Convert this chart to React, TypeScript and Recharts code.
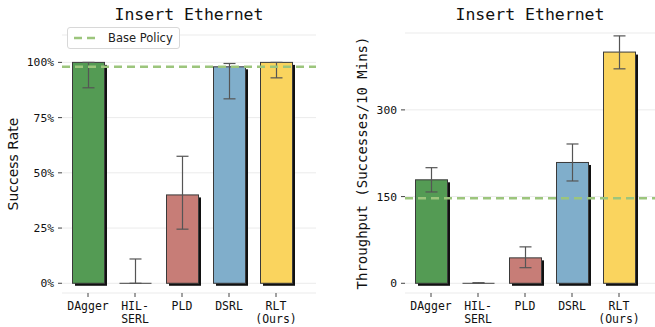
import React from "react";
import {
  BarChart,
  Bar,
  XAxis,
  YAxis,
  CartesianGrid,
  ErrorBar,
  ReferenceLine,
  Legend,
} from "recharts";

const categories = ["DAgger", "HIL-SERL", "PLD", "DSRL", "RLT (Ours)"];
const tickLines: Record<string, string[]> = {
  DAgger: ["DAgger"],
  "HIL-SERL": ["HIL-", "SERL"],
  PLD: ["PLD"],
  DSRL: ["DSRL"],
  "RLT (Ours)": ["RLT", "(Ours)"],
};
const barColors = ["#549b54", "#8c8c8c", "#c77d77", "#80aecb", "#fad45e"];

const successRate = [1.0, 0, 0.4, 0.98, 1.0];
const successLow = [0.885, 0, 0.245, 0.835, 0.93];
const successHigh = [1.0, 0.11, 0.575, 0.995, 1.0];
const successTicks = [0, 0.25, 0.5, 0.75, 1];
const successBase = 0.98;

const throughput = [179, 0, 44, 209, 400];
const throughputLow = [158, 0, 27, 177, 371];
const throughputHigh = [200, 1, 63, 241, 428];
const throughputTicks = [0, 150, 300];
const throughputBase = 147;

const MONO = "'DejaVu Sans Mono', monospace";
const SANS = "'DejaVu Sans', sans-serif";
const BASE_COLOR = "#9cc57c";

const successData = categories.map((name, i) => ({
  name,
  value: successRate[i],
  err: [successRate[i] - successLow[i], successHigh[i] - successRate[i]],
}));

const throughputData = categories.map((name, i) => ({
  name,
  value: throughput[i],
  err: [throughput[i] - throughputLow[i], throughputHigh[i] - throughput[i]],
}));

const ShadowBar = (props: any) => {
  const { x, y, width, height, index } = props;
  if (!height || height < 0.6) {
    return (
      <line x1={x} x2={x + width} y1={y} y2={y} stroke="#666" strokeWidth={1.2} />
    );
  }
  return (
    <g>
      <rect x={x + 2.5} y={y + 2.5} width={width} height={height} fill="#111" />
      <rect
        x={x}
        y={y}
        width={width}
        height={height}
        fill={barColors[index]}
        stroke="#3a3a3a"
        strokeWidth={1}
      />
    </g>
  );
};

const CategoryTick = (props: any) => {
  const { x, y, payload } = props;
  const lines = tickLines[payload.value] || [payload.value];
  return (
    <text x={x} y={y} textAnchor="middle" fontFamily={MONO} fontSize={11.5} fill="#111">
      {lines.map((l, i) => (
        <tspan key={i} x={x} dy={i === 0 ? 10.5 : 13.5}>
          {l}
        </tspan>
      ))}
    </text>
  );
};

const BaseLegend = () => (
  <div
    style={{
      display: "flex",
      alignItems: "center",
      border: "1px solid #d8d8d8",
      borderRadius: 3,
      padding: "3px 6px 3px 5px",
      background: "#fff",
      fontFamily: SANS,
      fontSize: 11.5,
      color: "#222",
      whiteSpace: "nowrap",
    }}
  >
    <svg width={26} height={8} style={{ marginRight: 9 }}>
      <line x1={1} x2={25} y1={4} y2={4} stroke={BASE_COLOR} strokeWidth={2.5} strokeDasharray="8 5" />
    </svg>
    Base Policy
  </div>
);

const titleStyle = (left: number, width: number): React.CSSProperties => ({
  position: "absolute",
  top: 5,
  left,
  width,
  textAlign: "center",
  fontFamily: MONO,
  fontSize: 16.5,
  color: "#111",
});

export default function App() {
  return (
    <div
      style={{
        position: "absolute",
        left: 0,
        top: 0,
        width: 655,
        height: 327,
        background: "#fff",
        overflow: "hidden",
      }}
    >
      <div style={{ position: "absolute", left: 0, top: 0 }}>
        <BarChart
          width={327}
          height={327}
          data={successData}
          margin={{ top: 35, right: 11, bottom: 0, left: 0 }}
        >
          <CartesianGrid vertical={false} stroke="#ebebeb" strokeWidth={1} />
          <XAxis
            dataKey="name"
            axisLine={false}
            tickLine={{ stroke: "#444" }}
            tickSize={4}
            height={34}
            padding={{ left: 2.5, right: 16.5 }}
            tick={<CategoryTick />}
            interval={0}
          />
          <YAxis
            width={62}
            domain={[-0.044, 1.124]}
            ticks={successTicks}
            allowDataOverflow
            axisLine={false}
            tickLine={{ stroke: "#444" }}
            tickSize={4}
            tickMargin={4}
            tickFormatter={(v: number) => `${Math.round(v * 100)}%`}
            tick={{ fontFamily: MONO, fontSize: 11.3, fill: "#111" }}
            label={{
              value: "Success Rate",
              angle: -90,
              position: "insideLeft",
              offset: 13,
              style: { fontFamily: SANS, fontSize: 14, fill: "#111", textAnchor: "middle" },
            }}
          />
          <Bar dataKey="value" barSize={32} shape={<ShadowBar />} isAnimationActive={false}>
            <ErrorBar dataKey="err" width={6} stroke="#555" strokeWidth={1.2} direction="y" />
          </Bar>
          <ReferenceLine
            y={successBase}
            stroke={BASE_COLOR}
            strokeWidth={2.5}
            strokeDasharray="8 5"
          />
          <Legend
            layout="vertical"
            align="center"
            verticalAlign="middle"
            content={<BaseLegend />}
            wrapperStyle={{ position: "absolute", left: 67, top: 27, width: "auto" }}
          />
        </BarChart>
        <div style={titleStyle(62, 254)}>Insert Ethernet</div>
      </div>

      <div style={{ position: "absolute", left: 327, top: 0 }}>
        <BarChart
          width={330}
          height={327}
          data={throughputData}
          margin={{ top: 33, right: 0, bottom: 0, left: 0 }}
        >
          <CartesianGrid vertical={false} stroke="#ebebeb" strokeWidth={1} />
          <XAxis
            dataKey="name"
            axisLine={false}
            tickLine={{ stroke: "#444" }}
            tickSize={4}
            height={34}
            padding={{ left: 2.5, right: 14.5 }}
            tick={<CategoryTick />}
            interval={0}
          />
          <YAxis
            width={78}
            domain={[-16.8, 433]}
            ticks={throughputTicks}
            allowDataOverflow
            axisLine={false}
            tickLine={{ stroke: "#444" }}
            tickSize={4}
            tickMargin={4}
            tick={{ fontFamily: MONO, fontSize: 11.3, fill: "#111" }}
            label={{
              value: "Throughput (Successes/10 Mins)",
              angle: -90,
              position: "insideLeft",
              offset: 35,
              style: { fontFamily: MONO, fontSize: 14, fill: "#111", textAnchor: "middle" },
            }}
          />
          <Bar dataKey="value" barSize={32} shape={<ShadowBar />} isAnimationActive={false}>
            <ErrorBar dataKey="err" width={6} stroke="#555" strokeWidth={1.2} direction="y" />
          </Bar>
          <ReferenceLine
            y={throughputBase}
            stroke={BASE_COLOR}
            strokeWidth={2.5}
            strokeDasharray="8 5"
          />
        </BarChart>
        <div style={titleStyle(78, 250)}>Insert Ethernet</div>
      </div>
    </div>
  );
}
